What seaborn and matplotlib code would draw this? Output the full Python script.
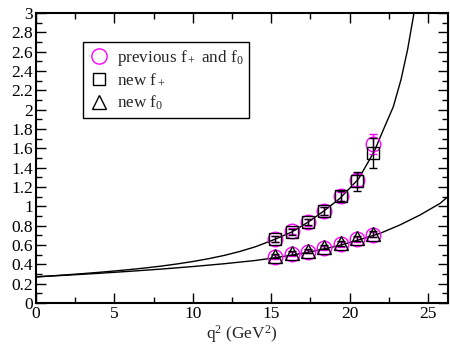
import matplotlib
matplotlib.use("Agg")
import matplotlib.pyplot as plt
import seaborn as sns
import pandas as pd
from matplotlib.ticker import MultipleLocator
from matplotlib.lines import Line2D

# ---- data ----
q2_pts = [15.24, 16.31, 17.37, 18.39, 19.45, 20.49, 21.51]
new_fplus = [0.659, 0.734, 0.838, 0.955, 1.11, 1.26, 1.555]
new_fplus_err = [0.03, 0.03, 0.035, 0.04, 0.05, 0.10, 0.155]
new_f0 = [0.486, 0.514, 0.541, 0.576, 0.617, 0.669, 0.713]
new_f0_err = [0.02, 0.02, 0.02, 0.02, 0.025, 0.025, 0.03]
prev_fplus = [0.665, 0.745, 0.835, 0.955, 1.105, 1.27, 1.644]
prev_fplus_err = [0.03, 0.03, 0.035, 0.04, 0.045, 0.06, 0.10]
prev_f0 = [0.475, 0.505, 0.532, 0.567, 0.607, 0.66, 0.708]
prev_f0_err = [0.02, 0.02, 0.02, 0.02, 0.025, 0.025, 0.03]

fplus_curve_q2 = [0, 1, 2, 3, 4, 5, 6, 7, 8, 9, 10, 11, 12, 13, 14, 15.24, 16.31,
                  17.37, 18.39, 19.39, 20.56, 21.58, 22.15, 22.79, 23.28, 23.7, 24.11, 24.3]
fplus_curve = [0.27, 0.281, 0.292, 0.304, 0.317, 0.331, 0.346, 0.363, 0.382, 0.404,
               0.429, 0.458, 0.492, 0.533, 0.582, 0.659, 0.734, 0.838, 0.955, 1.083,
               1.28, 1.57, 1.79, 2.03, 2.31, 2.62, 3.0, 3.2]
f0_curve_q2 = [0, 2, 4, 6, 8, 10, 12, 14, 15.24, 16.31, 17.37, 18.39, 19.45,
               20.49, 21.94, 23.21, 24.49, 25.77, 26.4]
f0_curve = [0.27, 0.288, 0.307, 0.328, 0.351, 0.377, 0.406, 0.44, 0.468, 0.495,
            0.525, 0.56, 0.6, 0.648, 0.72, 0.807, 0.91, 1.03, 1.117]

sns.set_theme(style="ticks")
plt.rcParams["font.family"] = ["Liberation Serif", "DejaVu Serif"]
plt.rcParams["mathtext.fontset"] = "custom"
plt.rcParams["mathtext.rm"] = "Liberation Serif"
plt.rcParams["mathtext.it"] = "Liberation Serif"
plt.rcParams["mathtext.default"] = "regular"

fig = plt.figure(figsize=(4.5, 3.5), dpi=100)
ax = fig.add_axes([0.08, 0.1343, 0.9156, 0.8286])

df_p = pd.DataFrame({"q2": fplus_curve_q2, "f": fplus_curve})
df_0 = pd.DataFrame({"q2": f0_curve_q2, "f": f0_curve})
sns.lineplot(data=df_p, x="q2", y="f", ax=ax, color="black", lw=1.0, sort=False, estimator=None)
sns.lineplot(data=df_0, x="q2", y="f", ax=ax, color="black", lw=1.0, sort=False, estimator=None)

mag = "#ff00ff"
ax.errorbar(q2_pts, prev_fplus, yerr=prev_fplus_err, fmt="o", mfc="none", mec=mag,
            ecolor=mag, ms=10.5, mew=1.0, capsize=3.2, elinewidth=1.0, zorder=3)
ax.errorbar(q2_pts, prev_f0, yerr=prev_f0_err, fmt="o", mfc="none", mec=mag,
            ecolor=mag, ms=10.5, mew=1.0, capsize=3.2, elinewidth=1.0, zorder=3)
ax.errorbar(q2_pts, new_fplus, yerr=new_fplus_err, fmt="s", mfc="none", mec="black",
            ecolor="black", ms=8.5, mew=1.0, capsize=3.2, elinewidth=1.0, zorder=4)
ax.errorbar(q2_pts, new_f0, yerr=new_f0_err, fmt="^", mfc="none", mec="black",
            ecolor="black", ms=9.5, mew=1.0, capsize=3.2, elinewidth=1.0, zorder=4)

ax.set_xlim(0, 26.28)
ax.set_ylim(0, 3)
ax.xaxis.set_minor_locator(MultipleLocator(2.5))
ax.yaxis.set_minor_locator(MultipleLocator(0.1))
ax.set_xticks([0, 5, 10, 15, 20, 25])
ax.set_xticklabels(["0", "5", "10", "15", "20", "25"])
yt = [round(0.2 * i, 1) for i in range(16)]
ax.set_yticks(yt)
ax.set_yticklabels(["%g" % v for v in yt])
ax.tick_params(which="both", direction="in", top=True, right=True, labelsize=12.5,
               colors="black", pad=2)
ax.tick_params(which="major", length=7, width=1.0)
ax.tick_params(which="minor", length=4, width=1.0)
for s in ax.spines.values():
    s.set_linewidth(1.5)
    s.set_color("black")

ax.set_xlabel(r"q$^2$ (GeV$^2$)", fontsize=12.5, labelpad=1)
ax.set_ylabel("")

handles = [
    Line2D([], [], ls="none", marker="o", mfc="none", mec=mag, ms=11, mew=1.0),
    Line2D([], [], ls="none", marker="s", mfc="none", mec="black", ms=9, mew=1.0),
    Line2D([], [], ls="none", marker="^", mfc="none", mec="black", ms=10, mew=1.0),
]
labels = [r"previous f$_+$ and f$_0$", r"new f$_+$", r"new f$_0$"]
leg = ax.legend(handles, labels, loc="upper left", bbox_to_anchor=(0.113, 0.9),
                fontsize=12.3, frameon=True, fancybox=False, framealpha=1,
                edgecolor="black", borderpad=0.35, handletextpad=0.45,
                labelspacing=0.28, handlelength=1.2, borderaxespad=0)
leg.get_frame().set_linewidth(1.0)

fig.savefig("out.png", dpi=100)
